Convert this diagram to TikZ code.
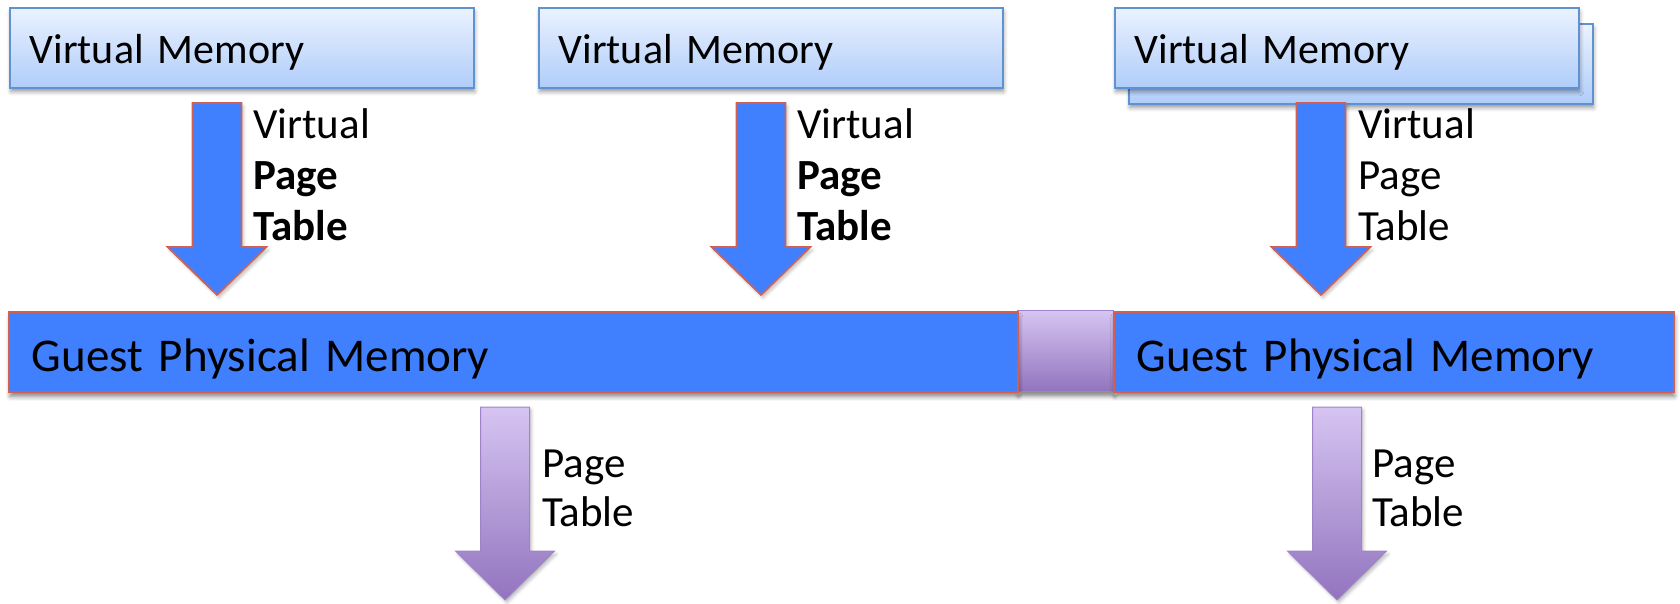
\documentclass[tikz,border=0pt]{standalone}
\usepackage{fontspec}
\setmainfont{Carlito}
\usetikzlibrary{positioning, shadows.blur}

\definecolor{vmtop}{RGB}{234,242,254}
\definecolor{vmbottom}{RGB}{176,205,250}
\definecolor{vmline}{RGB}{96,145,208}
\definecolor{gpmblue}{RGB}{64,128,255}
\definecolor{gpmline}{RGB}{210,96,82}
\definecolor{pttop}{RGB}{214,196,242}
\definecolor{ptbottom}{RGB}{146,116,190}
\definecolor{ptline}{RGB}{160,130,200}

\newcommand{\BOXWIDTH}{464}
\newcommand{\BOXHEIGHT}{80}
\newcommand{\BARHEIGHT}{80}
\newcommand{\SHAFTHALF}{24.5}
\newcommand{\HEADHALF}{49.5}
% block arrow pointing down: centre x, top, start of head, tip
\newcommand{\downblock}[5][]{%
  \draw[#1] (#2-\SHAFTHALF, #3) -- (#2+\SHAFTHALF, #3) -- (#2+\SHAFTHALF, #4)
    -- (#2+\HEADHALF, #4) -- (#2, #5) -- (#2-\HEADHALF, #4)
    -- (#2-\SHAFTHALF, #4) -- cycle;}

\begin{document}
\begin{tikzpicture}[x=1pt, y=-1pt,
    vmbox/.style={draw=vmline, line width=1.6pt, top color=vmtop, bottom color=vmbottom,
      anchor=north west, minimum height=\BOXHEIGHT pt, text width=\BOXWIDTH pt - 40pt,
      inner xsep=20pt, align=left, text height=36pt, text depth=4pt,
      font=\fontsize{42}{49}\selectfont,
      blur shadow={shadow xshift=1pt, shadow yshift=-4pt, shadow blur radius=4pt, shadow opacity=40}},
    gpmbar/.style={draw=gpmline, line width=1.8pt, fill=gpmblue, anchor=north west,
      minimum height=\BARHEIGHT pt, inner xsep=23pt, align=left,
      text height=42pt, text depth=2pt, font=\fontsize{47}{50}\selectfont,
      blur shadow={shadow xshift=1pt, shadow yshift=-5pt, shadow blur radius=4pt, shadow opacity=45}},
    vptarrow/.style={draw=gpmline, line width=1.6pt, fill=gpmblue,
      blur shadow={shadow xshift=2pt, shadow yshift=-3pt, shadow blur radius=3pt, shadow opacity=25}},
    ptarrow/.style={draw=ptline, line width=1pt, top color=pttop, bottom color=ptbottom,
      blur shadow={shadow xshift=2pt, shadow yshift=-3pt, shadow blur radius=3pt, shadow opacity=25}},
    arrowlabel/.style={anchor=base west, align=left, inner sep=0pt,
      font=\fontsize{43}{51}\selectfont},
  ]
  \useasboundingbox (0,0) rectangle (1680,603);

  % virtual memory boxes
  \node[vmbox] (vm1) at (9,7) {Virtual Memory};
  \node[vmbox] (vm2) at (538,7) {Virtual Memory};
  \node[vmbox] (vm3back) at (1128,23) {};
  \node[vmbox] (vm3) at (1114,7) {Virtual Memory};

  % virtual page table arrows (labels placed by their last line)
  \downblock[vptarrow]{217}{103}{247}{295}
  \downblock[vptarrow]{761}{103}{247}{295}
  \downblock[vptarrow]{1321}{103}{247}{295}
  \node[arrowlabel] (vpt1) at (253,240) {Virtual\\\textbf{Page}\\\textbf{Table}};
  \node[arrowlabel] (vpt2) at (797,240) {Virtual\\\textbf{Page}\\\textbf{Table}};
  \node[arrowlabel] (vpt3) at (1358,240) {Virtual\\Page\\Table};

  % guest physical memory
  \node[draw=ptline, line width=1pt, top color=pttop, bottom color=ptbottom, anchor=north west,
    minimum width=96pt, minimum height=81pt, inner sep=0pt,
    blur shadow={shadow xshift=1pt, shadow yshift=-5pt, shadow blur radius=4pt, shadow opacity=45}]
    (gap) at (1017,310) {};
  \node[gpmbar, text width=1009pt - 46pt] (gpm1) at (8,311) {Guest Physical Memory};
  \node[gpmbar, text width=560pt - 46pt] (gpm2) at (1113,311) {Guest Physical Memory};

  % page table arrows
  \downblock[ptarrow]{505}{407}{551}{600}
  \downblock[ptarrow]{1337}{407}{551}{600}
  \node[arrowlabel, font=\fontsize{43}{49}\selectfont] (pt1) at (542,526) {Page\\Table};
  \node[arrowlabel, font=\fontsize{43}{49}\selectfont] (pt2) at (1372,526) {Page\\Table};

\end{tikzpicture}
\end{document}
